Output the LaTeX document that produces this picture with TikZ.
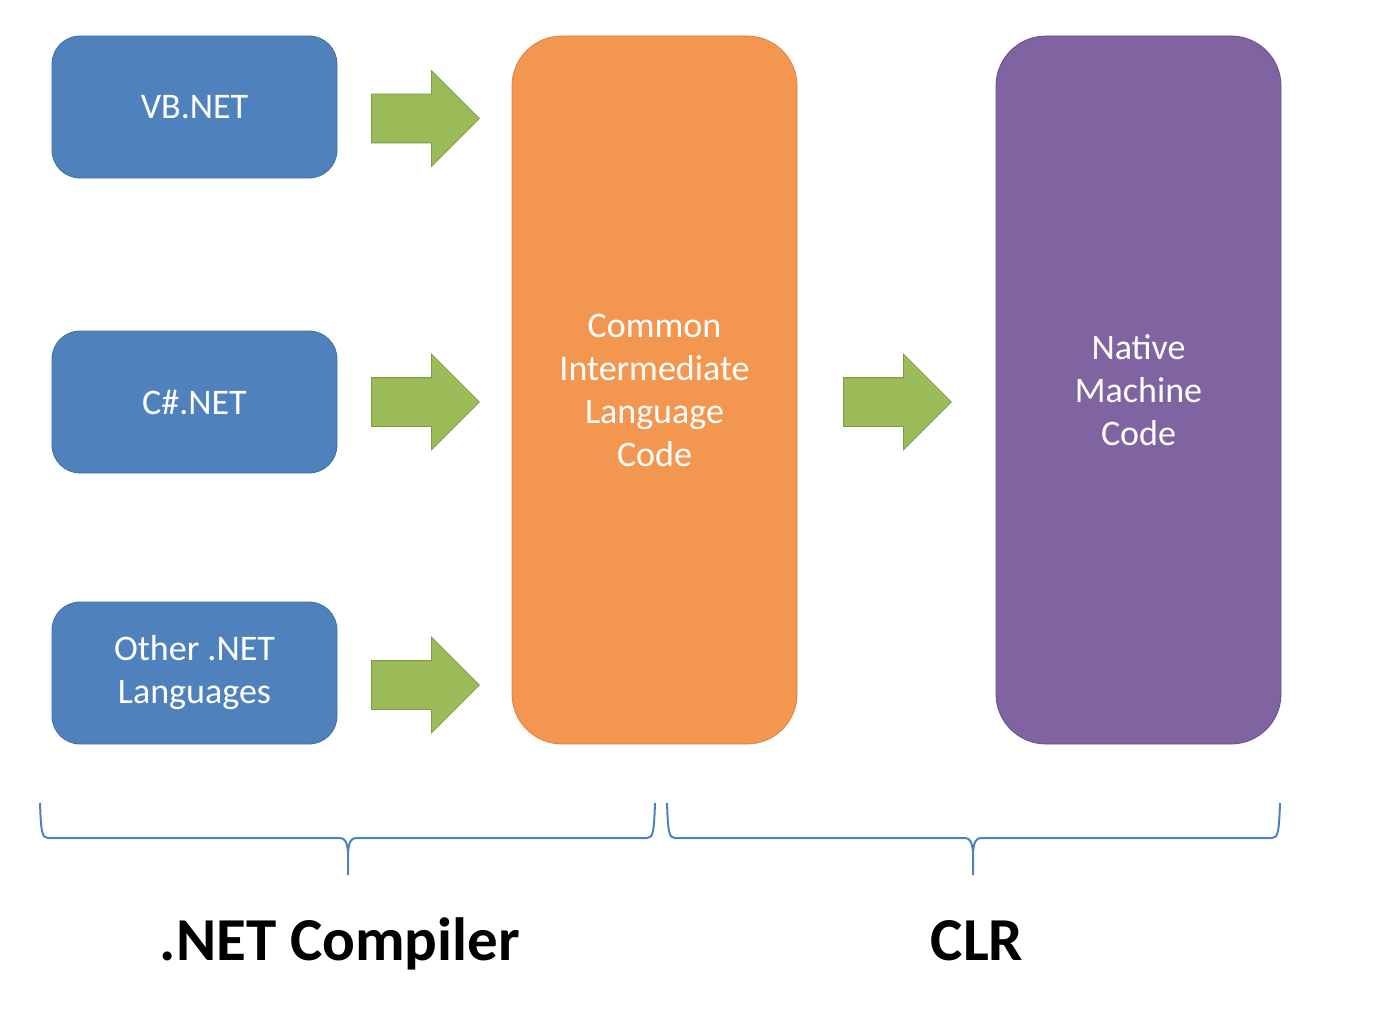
\documentclass[tikz,border=0pt]{standalone}
\usepackage{fontspec}
\setmainfont{Carlito}
\usetikzlibrary{shapes.arrows}
\definecolor{langblue}{HTML}{4F81BD}
\definecolor{langedge}{HTML}{41719C}
\definecolor{cilorange}{HTML}{F39650}
\definecolor{ciledge}{HTML}{D9823F}
\definecolor{natpurple}{HTML}{8064A2}
\definecolor{natedge}{HTML}{67508A}
\definecolor{arrgreen}{HTML}{9BBB59}
\definecolor{arredge}{HTML}{7A9A45}

\begin{document}
\begin{tikzpicture}[x=0.5pt,y=-0.5pt,
		lang/.style={draw=langedge, fill=langblue, rounded corners=14pt, minimum width=142.5pt, minimum height=71pt, inner sep=0pt, align=center, text=white, font=\fontsize{18}{21.5}\selectfont},
		tallbox/.style={rounded corners=25pt, minimum width=142.5pt, minimum height=354pt, inner sep=0pt, align=center, text=white, font=\fontsize{18}{21.5}\selectfont},
		garrow/.style={single arrow, draw=arredge, fill=arrgreen, minimum height=54pt, inner xsep=0pt, inner ysep=12pt, single arrow head extend=11.75pt, anchor=tail},
		bracket/.style={draw=langblue, line width=1pt},
		partlabel/.style={anchor=base, font=\bfseries\fontsize{30.5}{36}\selectfont}]
		\useasboundingbox (0,0) rectangle (1376,1022);
		
		% source languages
		\node[lang] (vb) at (194.5,107) {VB.NET};
		\node[lang] (cs) at (194.5,402) {C\#.NET};
		\node[lang] (other) at (194.5,673) {Other .NET\\Languages};
		
		\node[tallbox, fill=cilorange, draw=ciledge] (cil) at (654.5,390) {Common\\Intermediate\\Language\\Code};
		\node[tallbox, fill=natpurple, draw=natedge] (native) at (1138.5,390) {Native\\Machine\\Code};
		
		\node[garrow] (vbarrow) at (371,118.5) {};
		\node[garrow] (csarrow) at (371,402) {};
		\node[garrow] (otherarrow) at (371,685) {};
		\node[garrow] (cilarrow) at (843,402) {};
		
		% braces
		\foreach \a/\m/\b in {40/348/655, 667/973/1280}{
			\draw[bracket] (\a,803) .. controls (\a+1,832) and (\a+2,838) .. (\a+8,838)
				-- (\m-8,838) .. controls (\m-3,838) and (\m-1,842) .. (\m,852) -- (\m,875)
				(\m,852) .. controls (\m+1,842) and (\m+3,838) .. (\m+8,838)
				-- (\b-8,838) .. controls (\b-2,838) and (\b-1,832) .. (\b,803);
		}
		
		\node[partlabel] (compiler) at (340,960) {.NET Compiler};
		\node[partlabel] (clr) at (977,960) {CLR};
	\end{tikzpicture}
\end{document}
